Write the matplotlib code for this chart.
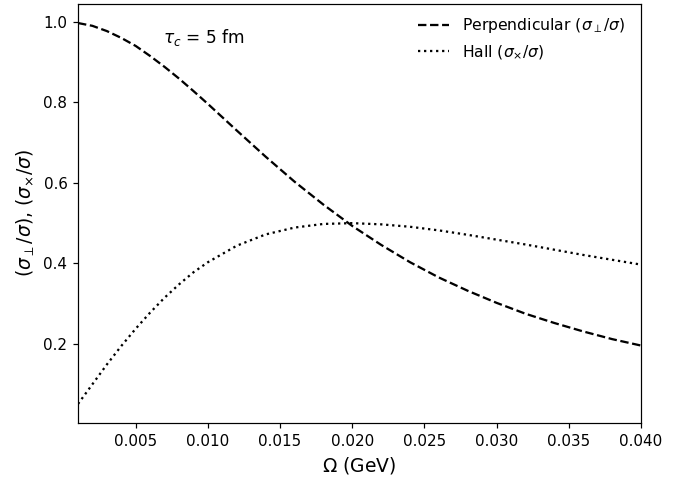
import matplotlib
matplotlib.use("Agg")
import matplotlib.pyplot as plt

# conductivity ratios vs cyclotron frequency, tau_c = 5 fm
omega = [0.001, 0.002, 0.003, 0.004, 0.005, 0.006, 0.007, 0.008, 0.009, 0.010,
         0.012, 0.014, 0.016, 0.018, 0.020, 0.022, 0.024, 0.026, 0.028, 0.030,
         0.032, 0.034, 0.036, 0.038, 0.040]
perp = [0.997, 0.990, 0.977, 0.960, 0.940, 0.915, 0.888, 0.859, 0.828, 0.796,
        0.730, 0.665, 0.603, 0.546, 0.493, 0.446, 0.403, 0.365, 0.332, 0.302,
        0.275, 0.252, 0.231, 0.212, 0.196]
hall = [0.051, 0.100, 0.149, 0.195, 0.238, 0.278, 0.315, 0.348, 0.378, 0.403,
        0.444, 0.472, 0.489, 0.498, 0.500, 0.497, 0.491, 0.482, 0.471, 0.459,
        0.447, 0.434, 0.421, 0.409, 0.397]

dpi = 109
fig = plt.figure(figsize=(691/dpi, 480/dpi), dpi=dpi)
ax = fig.add_axes([0.1129, 0.1188, 0.8147, 0.8729])

ax.plot(omega, perp, "k--", label=r"Perpendicular ($\sigma_\perp/\sigma$)")
ax.plot(omega, hall, "k:", label=r"Hall ($\sigma_{\times}/\sigma$)")

ax.set_xlim(0.001, 0.040)
ax.set_xticks([0.005, 0.010, 0.015, 0.020, 0.025, 0.030, 0.035, 0.040])
ax.set_yticks([0.2, 0.4, 0.6, 0.8, 1.0])
ax.set_xlabel(r"$\Omega$ (GeV)", fontsize=12.4)
ax.set_ylabel(r"$(\sigma_\perp/\sigma)$, $(\sigma_{\times}/\sigma)$", fontsize=12.4)
ax.text(0.0069, 0.96, r"$\tau_c$ = 5 fm", va="center", fontsize=11.2)
ax.legend(loc="upper right", bbox_to_anchor=(0.9964, 1.0048),
          frameon=False, fontsize=10.3)

fig.savefig("out.png", dpi=dpi)
plt.close(fig)
